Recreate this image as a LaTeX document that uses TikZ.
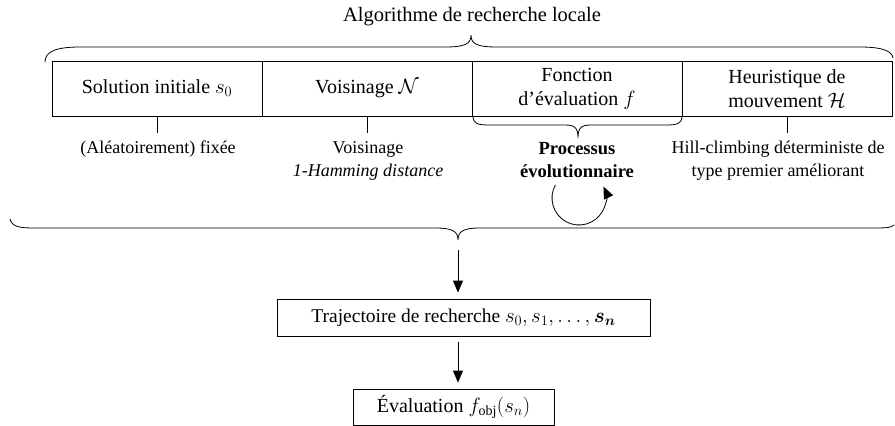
\documentclass[tikz,border=0pt]{standalone}
\usepackage{fontspec}
\setmainfont{Liberation Serif}
\usepackage{bm}
\usetikzlibrary{arrows.meta}
\begin{document}
\begin{tikzpicture}[x=1pt,y={(0pt,-1pt)},
  line width=0.8pt,
  boxnode/.style={draw,minimum width=210pt,minimum height=55pt,inner sep=0pt,outer sep=0pt,align=center,font=\fontsize{20}{24}\selectfont},
  lbl/.style={align=center,inner sep=0pt,font=\fontsize{18}{23}\selectfont},
  arr/.style={-{Triangle[length=12pt,width=10pt]}},
  brc/.style={line width=0.8pt}]
\useasboundingbox (0,0) rectangle (895,426);
\node[font=\fontsize{20.5}{25}\selectfont] (title) at (472,17) {Algorithme de recherche locale};
\draw[brc] (45,62) .. controls (45,52) and (55,47) .. (80,47) -- (445,47) .. controls (465,47) and (471,44) .. (471,35)
  .. controls (471,44) and (477,47) .. (497,47) -- (860,47) .. controls (885,47) and (892,52) .. (893,58);
\node[boxnode] (b1) at (157,88.5) {Solution initiale $s_0$};
\node[boxnode] (b2) at (367,88.5) {Voisinage $\mathcal{N}$};
\node[boxnode] (b3) at (577,88.5) {Fonction\\d’évaluation $f$};
\node[boxnode] (b4) at (787,88.5) {Heuristique de\\mouvement $\mathcal{H}$};
\coordinate (t1) at (157,133);
\coordinate (t2) at (367,133);
\coordinate (t4) at (787,133);
\draw (b1.south) -- (t1);
\draw (b2.south) -- (t2);
\draw (b4.south) -- (t4);
\draw[brc] (473,116) .. controls (473,124) and (478,125) .. (490,125) -- (565,125) .. controls (575,125) and (578,128) .. (578,138)
  .. controls (578,128) and (581,125) .. (591,125) -- (665,125) .. controls (677,125) and (682,124) .. (682,116);
\node[lbl] (l1) at (158,149) {(Aléatoirement) fixée};
\node[lbl] (l2) at (368,160.5) {Voisinage\\\textit{1-Hamming distance}};
\node[lbl,font=\fontsize{18.5}{23}\selectfont\bfseries] (l3) at (577,160.5) {Processus\\évolutionnaire};
\node[lbl] (l4) at (778,160.5) {Hill-climbing déterministe de\\type premier améliorant};
\coordinate (loopc) at (579,198);
\draw[arr] (loopc) ++(151:27pt) arc[start angle=151,end angle=385,radius=27pt];
\draw[brc] (10,219) .. controls (12,227) and (20,228) .. (35,228) -- (435,228) .. controls (452,228) and (458,231) .. (458,240)
  .. controls (458,231) and (464,228) .. (480,228) -- (870,228) .. controls (885,228) and (891,228) .. (894,225);
\coordinate (bt) at (458,250);
\node[draw,minimum width=373pt,minimum height=37pt,inner sep=0pt,font=\fontsize{19.5}{22}\selectfont] (traj) at (463.5,317.5) {Trajectoire de recherche $s_0, s_1, \dots, \bm{s}_{\bm{n}}$};
\node[draw,minimum width=201pt,minimum height=36pt,inner sep=0pt,font=\fontsize{20}{22}\selectfont] (eval) at (453.5,407) {Évaluation $f_{\mathrm{obj}}(s_n)$};
\draw[arr,shorten >=6pt] (bt) -- (bt |- traj.north);
\draw[arr,shorten <=6pt,shorten >=6pt] (bt |- traj.south) -- (bt |- eval.north);
\end{tikzpicture}
\end{document}
